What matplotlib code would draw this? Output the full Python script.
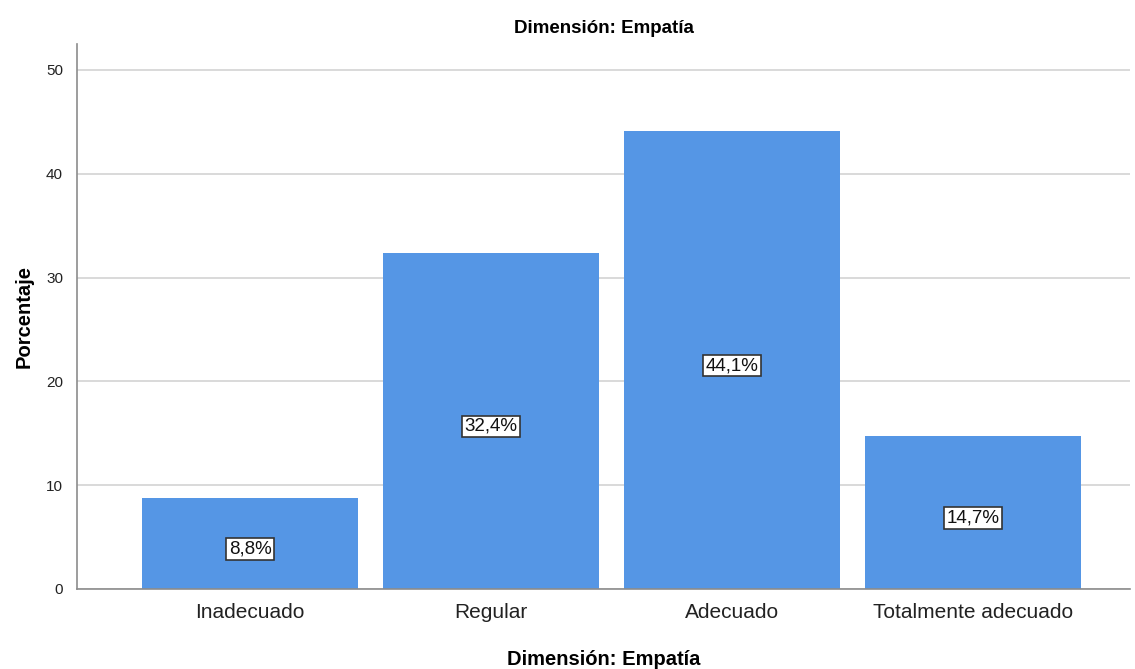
import numpy as np
import matplotlib.pyplot as plt

plt.rcParams['font.family'] = ['Liberation Sans', 'DejaVu Sans']

categorias = ['Inadecuado', 'Regular', 'Adecuado', 'Totalmente adecuado']
porcentajes = [8.8, 32.4, 44.1, 14.7]
etiquetas = ['8,8%', '32,4%', '44,1%', '14,7%']

fig = plt.figure(figsize=(11.35, 6.69), dpi=100)
ax = fig.add_axes((0.0678, 0.1196, 0.9278, 0.8146))

x = np.arange(len(categorias))
ax.bar(x, porcentajes, width=0.896, color='#5596e5', zorder=2)

# etiquetas de porcentaje centradas en cada barra
for xi, v, lab in zip(x, porcentajes, etiquetas):
    ax.annotate(lab, (xi, v / 2), xytext=(0, -4), textcoords='offset points',
                ha='center', va='center', fontsize=13.5, color='#111111', zorder=3,
                bbox=dict(boxstyle='square,pad=0.12', fc='white', ec='#333333', lw=1.2))

ax.set_xlim(-0.718, 3.651)
ax.set_ylim(0, 52.5)
ax.set_yticks([0, 10, 20, 30, 40, 50])
ax.set_xticks(x)
ax.set_xticklabels(categorias, fontsize=15, color='#222222')
ax.tick_params(axis='y', labelsize=11, length=0, pad=10, colors='#222222')
ax.tick_params(axis='x', length=0, pad=10)
ax.yaxis.grid(True, color='#d3d3d3', lw=1.2, zorder=0)
ax.set_axisbelow(True)

for s in ['top', 'right']:
    ax.spines[s].set_visible(False)
for s in ['left', 'bottom']:
    ax.spines[s].set_color('#8c8c8c')
    ax.spines[s].set_linewidth(1.2)

ax.set_title('Dimensión: Empatía', fontsize=13.5, fontweight='bold', pad=8)
ax.set_xlabel('Dimensión: Empatía', fontsize=14.5, fontweight='bold', labelpad=20)
ax.set_ylabel('Porcentaje', fontsize=14.5, fontweight='bold', labelpad=9)

fig.savefig('out.png', dpi=100)
